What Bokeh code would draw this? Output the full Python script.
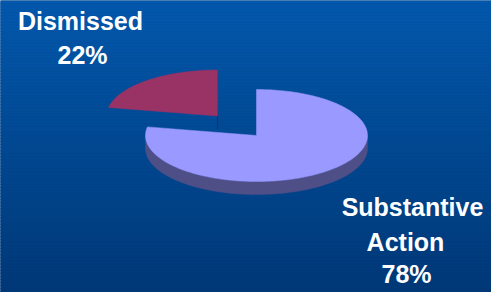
import numpy as np
from bokeh.plotting import figure
from bokeh.models import Range1d
from bokeh.core.properties import value
from bokeh.embed import file_html
from bokeh.resources import INLINE

# ---- data ----
categories = ["Substantive\nAction", "Dismissed"]
shares = [78, 22]
pct_labels = ["78%", "22%"]

# ---- styling ----
top_colors = ["#9999FF", "#993366"]
side_colors = ["#4F4F88", "#4D1A33"]
BG_TOP = (4, 88, 172)
BG_BOT = (0, 56, 118)

W, H = 491, 292
p = figure(width=W, height=H, output_backend="svg", toolbar_location=None,
           x_range=Range1d(0, W), y_range=Range1d(H, 0),
           min_border=0, outline_line_color=None)
p.axis.visible = False
p.grid.visible = False
p.background_fill_color = "#003876"
p.border_fill_color = "#003876"

# gradient background
n = 98
edges = np.linspace(0, 300, n + 1)
cols = []
for i in range(n):
    t = i / (n - 1)
    r = int(BG_TOP[0] + (BG_BOT[0] - BG_TOP[0]) * t)
    g = int(BG_TOP[1] + (BG_BOT[1] - BG_TOP[1]) * t)
    b = int(BG_TOP[2] + (BG_BOT[2] - BG_TOP[2]) * t)
    cols.append("#%02x%02x%02x" % (r, g, b))
p.quad(left=-5, right=500, top=edges[:-1], bottom=edges[1:] + 0.5,
       fill_color=cols, line_color=cols, line_width=0.5)

# pie geometry (data coords == reference pixels)
cx, cy, rx, ry, depth = 256, 135, 111, 46, 13
explode = [0.0, 0.55]

def pt(theta, ox, oy, r=1.0):
    return ox + r * rx * np.sin(theta), oy - r * ry * np.cos(theta)

total = float(sum(shares))
start = 0.0
sides_x, sides_y, sides_c = [], [], []
tops_x, tops_y, tops_c = [], [], []
for i, s in enumerate(shares):
    a0 = start
    a1 = start + 2 * np.pi * s / total
    start = a1
    mid = (a0 + a1) / 2
    ox = cx + explode[i] * rx * np.sin(mid)
    oy = cy - explode[i] * ry * np.cos(mid)
    th = np.linspace(a0, a1, 200)
    ax, ay = pt(th, ox, oy)
    tops_x.append(np.concatenate([[ox], ax]).tolist())
    tops_y.append(np.concatenate([[oy], ay]).tolist())
    tops_c.append(top_colors[i])
    lo, hi = max(a0, np.pi / 2), min(a1, 3 * np.pi / 2)
    if hi > lo:
        t2 = np.linspace(lo, hi, 150)
        bx, by = pt(t2, ox, oy)
        sides_x.append(np.concatenate([bx, bx[::-1]]).tolist())
        sides_y.append(np.concatenate([by, by[::-1] + depth]).tolist())
        sides_c.append(side_colors[i])
    if np.cos(a1) > 0 and np.sin(a1) < 0 and i > 0:
        ex, ey = pt(a1, ox, oy)
        sides_x.append([ox, ex, ex, ox])
        sides_y.append([oy, ey, ey + depth, oy + depth])
        sides_c.append(side_colors[i])

p.patches(sides_x, sides_y, fill_color=sides_c, line_color=sides_c, line_width=0.5)
p.patches(tops_x, tops_y, fill_color=tops_c, line_color=tops_c, line_width=0.5)

# labels (per-line anchor positions)
lab_x = [[412, 405, 406], [80, 82]]
lab_y = [[206, 241, 273], [20, 54]]
tx, ty, tt = [], [], []
for i in range(len(shares)):
    lines = categories[i].split("\n") + [pct_labels[i]]
    for j, ln in enumerate(lines):
        tx.append(lab_x[i][j])
        ty.append(lab_y[i][j])
        tt.append(ln)
p.text(x=tx, y=ty, text=tt, text_color="white", text_font=value("Liberation Sans"),
       text_font_style="bold", text_font_size="25px", text_align="center",
       text_baseline="middle")

open("out.html", "w").write(file_html(p, INLINE))
